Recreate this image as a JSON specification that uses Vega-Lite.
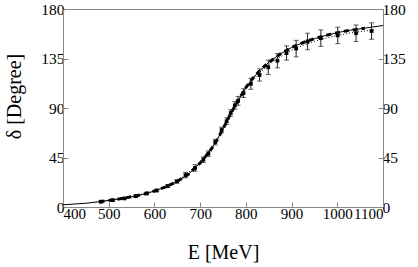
{
  "$schema": "https://vega.github.io/schema/vega-lite/v6.json",
  "width": 320,
  "height": 198,
  "autosize": {"type": "none"},
  "padding": {"left": 63, "top": 9, "right": 35, "bottom": 60},
  "background": "white",
  "config": {
    "view": {"stroke": "#888", "strokeWidth": 1},
    "axis": {
      "labelFont": "Liberation Serif, Times New Roman, serif", "titleFont": "Liberation Serif, Times New Roman, serif",
      "labelFontSize": 15.5, "titleFontSize": 20,
      "labelColor": "#000", "titleColor": "#000", "titleFontWeight": "normal",
      "domainColor": "#888", "tickColor": "#888", "grid": false,
      "tickSize": -5, "labelPadding": 4, "labelOverlap": false
    }
  },
  "datasets": {
    "pts": [
      {"E": 483, "d": 4.8, "lo": 4.0, "hi": 5.6},
      {"E": 509, "d": 6.2, "lo": 5.4, "hi": 7.0},
      {"E": 534, "d": 7.8, "lo": 7.0, "hi": 8.6},
      {"E": 559, "d": 9.8, "lo": 8.8, "hi": 10.8},
      {"E": 583, "d": 12.3, "lo": 11.3, "hi": 13.3},
      {"E": 605, "d": 15.0, "lo": 14.0, "hi": 16.0},
      {"E": 629, "d": 19.0, "lo": 17.8, "hi": 20.2},
      {"E": 649, "d": 23.2, "lo": 21.7, "hi": 24.7},
      {"E": 668, "d": 29.0, "lo": 26.5, "hi": 31.5},
      {"E": 689, "d": 35.5, "lo": 32.5, "hi": 38.5},
      {"E": 707, "d": 43.0, "lo": 40.5, "hi": 45.5},
      {"E": 718, "d": 48.5, "lo": 46.0, "hi": 51.0},
      {"E": 733, "d": 59.0, "lo": 56.5, "hi": 61.5},
      {"E": 747, "d": 70.0, "lo": 67.5, "hi": 72.5},
      {"E": 758, "d": 78.0, "lo": 75.0, "hi": 81.0},
      {"E": 767, "d": 85.5, "lo": 82.5, "hi": 88.5},
      {"E": 776, "d": 92.5, "lo": 89.0, "hi": 96.0},
      {"E": 783, "d": 96.5, "lo": 92.5, "hi": 100.5},
      {"E": 795, "d": 103.5, "lo": 99.5, "hi": 107.5},
      {"E": 811, "d": 112.0, "lo": 107.0, "hi": 117.0},
      {"E": 830, "d": 120.0, "lo": 114.5, "hi": 125.5},
      {"E": 849, "d": 127.0, "lo": 120.5, "hi": 133.5},
      {"E": 869, "d": 133.0, "lo": 126.5, "hi": 139.5},
      {"E": 889, "d": 140.0, "lo": 133.5, "hi": 146.5},
      {"E": 910, "d": 144.0, "lo": 136.5, "hi": 151.5},
      {"E": 935, "d": 150.5, "lo": 143.0, "hi": 158.0},
      {"E": 964, "d": 153.5, "lo": 146.0, "hi": 161.0},
      {"E": 1001, "d": 156.0, "lo": 148.5, "hi": 163.5},
      {"E": 1041, "d": 158.0, "lo": 150.5, "hi": 165.5},
      {"E": 1075, "d": 160.0, "lo": 152.5, "hi": 167.5}
    ],
    "solid": [
      {"E": 400, "d": 2.0}, {"E": 425, "d": 2.7}, {"E": 450, "d": 3.4}, {"E": 475, "d": 4.6},
      {"E": 500, "d": 6.0}, {"E": 525, "d": 7.5}, {"E": 550, "d": 9.3}, {"E": 575, "d": 11.5},
      {"E": 600, "d": 14.5}, {"E": 625, "d": 18.3}, {"E": 650, "d": 23.2}, {"E": 675, "d": 30.0},
      {"E": 700, "d": 40.0}, {"E": 712, "d": 46.0}, {"E": 725, "d": 53.0}, {"E": 737, "d": 61.0},
      {"E": 750, "d": 71.0}, {"E": 762, "d": 81.0}, {"E": 775, "d": 91.0}, {"E": 787, "d": 99.5},
      {"E": 800, "d": 108.5}, {"E": 812, "d": 115.5}, {"E": 825, "d": 121.5}, {"E": 837, "d": 126.5},
      {"E": 850, "d": 131.5}, {"E": 875, "d": 139.0}, {"E": 900, "d": 145.0}, {"E": 925, "d": 149.5},
      {"E": 950, "d": 153.0}, {"E": 975, "d": 156.0}, {"E": 1000, "d": 158.5}, {"E": 1025, "d": 160.5},
      {"E": 1050, "d": 162.0}, {"E": 1075, "d": 163.5}, {"E": 1100, "d": 165.0}
    ],
    "dashed": [
      {"E": 480, "d": 4.8}, {"E": 500, "d": 6.0}, {"E": 525, "d": 7.5}, {"E": 550, "d": 9.3}, {"E": 575, "d": 11.5},
      {"E": 600, "d": 14.5}, {"E": 625, "d": 18.3}, {"E": 650, "d": 23.2}, {"E": 675, "d": 30.0},
      {"E": 700, "d": 40.0}, {"E": 712, "d": 46.0}, {"E": 725, "d": 53.0}, {"E": 737, "d": 61.0},
      {"E": 750, "d": 71.0}, {"E": 762, "d": 81.0}, {"E": 775, "d": 91.0}, {"E": 787, "d": 99.5},
      {"E": 800, "d": 108.5}, {"E": 812, "d": 115.5}, {"E": 825, "d": 121.5}, {"E": 837, "d": 126.5},
      {"E": 850, "d": 131.5}, {"E": 875, "d": 139.0}, {"E": 900, "d": 145.0}, {"E": 925, "d": 149.5},
      {"E": 950, "d": 153.0}, {"E": 975, "d": 156.0}, {"E": 1000, "d": 158.5}, {"E": 1025, "d": 160.5},
      {"E": 1060, "d": 162.5}
    ],
    "dotted": [
      {"E": 480, "d": 4.8}, {"E": 500, "d": 6.0}, {"E": 550, "d": 9.3}, {"E": 600, "d": 14.5},
      {"E": 650, "d": 23.2}, {"E": 700, "d": 40.0}, {"E": 725, "d": 53.0}, {"E": 750, "d": 71.0},
      {"E": 775, "d": 90.5}, {"E": 800, "d": 107.5}, {"E": 825, "d": 120.0}, {"E": 850, "d": 129.5},
      {"E": 875, "d": 136.5}, {"E": 900, "d": 142.5}, {"E": 925, "d": 147.0}, {"E": 950, "d": 150.5},
      {"E": 975, "d": 153.5}, {"E": 1000, "d": 156.0}, {"E": 1025, "d": 158.0}, {"E": 1050, "d": 159.5},
      {"E": 1080, "d": 161.0}
    ]
  },
  "encoding": {
    "x": {"field": "E", "type": "quantitative", "scale": {"domain": [400, 1100], "nice": false},
      "axis": {"values": [400, 500, 600, 700, 800, 900, 1000, 1100], "format": "d", "labelFontSize": 15, "title": "E [MeV]", "titleY": 51, "titleBaseline": "alphabetic"}}
  },
  "layer": [
    {
      "data": {"name": "solid"},
      "mark": {"type": "line", "color": "#000", "strokeWidth": 1, "clip": true},
      "encoding": {
        "y": {"field": "d", "type": "quantitative", "scale": {"domain": [0, 180], "nice": false},
          "axis": {"values": [0, 45, 90, 135, 180], "title": "δ   [Degree]", "titleX": -49, "titleY": 87, "titleBaseline": "middle"}}
      }
    },
    {
      "data": {"name": "dashed"},
      "mark": {"type": "line", "color": "#000", "strokeWidth": 3, "strokeDash": [5, 4]},
      "encoding": {
        "y": {"field": "d", "type": "quantitative", "axis": null}
      }
    },
    {
      "data": {"name": "pts"},
      "mark": {"type": "rule", "color": "#222", "strokeWidth": 1},
      "encoding": {
        "y": {"field": "lo", "type": "quantitative", "axis": null},
        "y2": {"field": "hi"}
      }
    },
    {
      "data": {"name": "pts"},
      "mark": {"type": "tick", "color": "#222", "orient": "horizontal", "size": 5, "thickness": 1},
      "encoding": {
        "y": {"field": "lo", "type": "quantitative", "axis": null}
      }
    },
    {
      "data": {"name": "pts"},
      "mark": {"type": "tick", "color": "#222", "orient": "horizontal", "size": 5, "thickness": 1},
      "encoding": {
        "y": {"field": "hi", "type": "quantitative", "axis": null}
      }
    },
    {
      "data": {"name": "pts"},
      "mark": {"type": "square", "color": "#000", "filled": true, "size": 14, "opacity": 1},
      "encoding": {
        "y": {"field": "d", "type": "quantitative", "axis": null}
      }
    },
    {
      "data": {"name": "dotted"},
      "mark": {"type": "line", "color": "#000", "strokeWidth": 1, "strokeDash": [1, 2]},
      "encoding": {
        "y": {"field": "d", "type": "quantitative",
          "axis": {"orient": "right", "values": [0, 45, 90, 135, 180], "title": null}}
      }
    }
  ],
  "resolve": {"axis": {"y": "independent"}}
}
